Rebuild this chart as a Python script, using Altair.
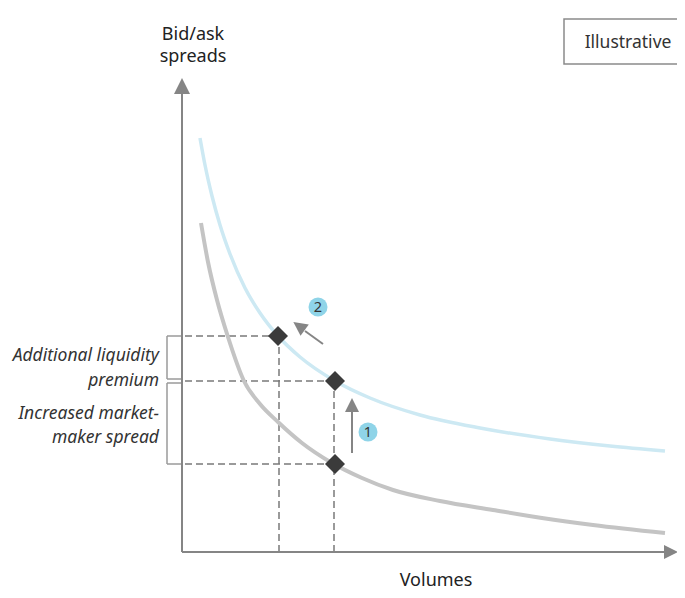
import altair as alt
import pandas as pd

# ---- data (illustrative units: volume along x, spread along y) ----
gray_vol = [19, 26, 35, 46, 62, 78, 96, 120, 150, 180, 211, 258, 311, 360, 411, 483]
gray_spread = [329, 290, 252, 215, 171, 148, 130, 109, 89, 74, 62, 51, 42, 34, 27, 19]

blue_vol = [18, 23, 30, 38, 48, 63, 78, 96, 118, 153, 188, 238, 298, 368, 428, 483]
blue_spread = [414, 387, 356, 327, 298, 264, 239, 216, 195, 171, 154, 137, 124, 113, 106, 101]

pt_vol = [96, 153, 153]
pt_spread = [216, 171, 88]

# dashed guides: horizontal (from axis to point) and vertical (from axis to point)
h_guide_y = [216, 171, 88]
h_guide_x_end = [96, 153, 153]
v_guide_x = [97, 152]
v_guide_y_end = [216, 171]

# brackets on the spread axis
bracket_top = [216, 169]
bracket_bottom = [173, 88]

label_lines = ["Additional liquidity", "premium", "Increased market-", "maker spread"]
label_y = [191, 166, 133, 109]

XMIN, XMAX = -174, 495
YMIN, YMAX = -38, 544

xs = alt.Scale(domain=[XMIN, XMAX], nice=False, zero=False)
ys = alt.Scale(domain=[YMIN, YMAX], nice=False, zero=False)

def X(f="x"):
    return alt.X(f"{f}:Q", scale=xs, axis=None)

def Y(f="y"):
    return alt.Y(f"{f}:Q", scale=ys, axis=None)

AX = "#858585"
FONT = "Noto Sans"

gray_df = pd.DataFrame({"x": gray_vol, "y": gray_spread})
blue_df = pd.DataFrame({"x": blue_vol, "y": blue_spread})
pts_df = pd.DataFrame({"x": pt_vol, "y": pt_spread})

gray_line = alt.Chart(gray_df).mark_line(color="#c4c4c4", strokeWidth=4, interpolate="monotone").encode(
    x=X(), y=Y(), order="x:Q")
blue_line = alt.Chart(blue_df).mark_line(color="#cde9f3", strokeWidth=3.5, interpolate="monotone").encode(
    x=X(), y=Y(), order="x:Q")

hg = pd.DataFrame({"x": [3] * 3, "x2": h_guide_x_end, "y": h_guide_y})
vg = pd.DataFrame({"x": v_guide_x, "y": [0, 0], "y2": v_guide_y_end})
h_dash = alt.Chart(hg).mark_rule(color="#7a7a7a", strokeWidth=1.5, strokeDash=[7, 4]).encode(
    x=X(), x2="x2:Q", y=Y())
v_dash = alt.Chart(vg).mark_rule(color="#7a7a7a", strokeWidth=1.5, strokeDash=[7, 4]).encode(
    x=X(), y=Y(), y2="y2:Q")

# axes
axes_df = pd.DataFrame({"x": [0, 0], "x2": [0, 484], "y": [0, 0], "y2": [460, 0]})
axes = alt.Chart(axes_df).mark_rule(color=AX, strokeWidth=2).encode(
    x=X(), x2="x2:Q", y=Y(), y2="y2:Q")
yhead = alt.Chart(pd.DataFrame({"x": [0], "y": [466]})).mark_point(
    shape="M0,-1L1,1L-1,1Z", filled=True, color=AX, opacity=1, size=256).encode(x=X(), y=Y())
xhead = alt.Chart(pd.DataFrame({"x": [489], "y": [0]})).mark_point(
    shape="M1,0L-1,-1L-1,1Z", filled=True, color=AX, opacity=1, size=196).encode(x=X(), y=Y())

# brackets
br_v = pd.DataFrame({"x": [-15, -15], "y": bracket_top, "y2": bracket_bottom})
br_h = pd.DataFrame({"x": [-15] * 4, "x2": [-1] * 4,
                     "y": [bracket_top[0], bracket_bottom[0], bracket_top[1], bracket_bottom[1]]})
brackets_v = alt.Chart(br_v).mark_rule(color="#9a9a9a", strokeWidth=1.5).encode(x=X(), y=Y(), y2="y2:Q")
brackets_h = alt.Chart(br_h).mark_rule(color="#9a9a9a", strokeWidth=1.5).encode(x=X(), x2="x2:Q", y=Y())

# arrows
arr_lines = pd.DataFrame({"x": [170, 141], "x2": [170, 123], "y": [99, 208], "y2": [141, 221]})
arrows = alt.Chart(arr_lines).mark_rule(color=AX, strokeWidth=2).encode(
    x=X(), x2="x2:Q", y=Y(), y2="y2:Q")
heads_df = pd.DataFrame({"x": [170, 117], "y": [147, 226], "a": [0, 306]})
heads = alt.Chart(heads_df).mark_point(
    shape="M0,-1L1,1L-1,1Z", filled=True, color=AX, opacity=1, size=196).encode(
    x=X(), y=Y(), angle=alt.Angle("a:Q", scale=None))

# diamonds
diamonds = alt.Chart(pts_df).mark_point(shape="diamond", filled=True, color="#3b3b3b",
                                        opacity=1, size=400).encode(x=X(), y=Y())

# numbered circles
num_df = pd.DataFrame({"x": [186, 136], "y": [120, 245], "t": ["1", "2"]})
circles = alt.Chart(num_df).mark_point(shape="circle", filled=True, color="#8fd4e8",
                                       opacity=1, size=361).encode(x=X(), y=Y())
nums = alt.Chart(num_df).mark_text(font=FONT, fontSize=14.5, color="#333333", baseline="middle",
                                   dy=0.5).encode(x=X(), y=Y(), text="t:N")

# labels on the left
lab_df = pd.DataFrame({"x": [-23] * 4, "y": label_y, "t": label_lines})
labels = alt.Chart(lab_df).mark_text(font=FONT, fontSize=17.5, fontStyle="italic", color="#333333",
                                     align="right", baseline="alphabetic").encode(x=X(), y=Y(), text="t:N")

# axis titles
yt_df = pd.DataFrame({"x": [11, 11], "y": [512, 490], "t": ["Bid/ask", "spreads"]})
ytitle = alt.Chart(yt_df).mark_text(font=FONT, fontSize=18, color="#222222", align="center",
                                    baseline="alphabetic").encode(x=X(), y=Y(), text="t:N")
xt_df = pd.DataFrame({"x": [254], "y": [-34], "t": ["Volumes"]})
xtitle = alt.Chart(xt_df).mark_text(font=FONT, fontSize=18, color="#222222", align="center",
                                    baseline="alphabetic").encode(x=X(), y=Y(), text="t:N")

# Illustrative box
box_df = pd.DataFrame({"x": [382], "x2": [530], "y": [533], "y2": [488]})
box = alt.Chart(box_df).mark_rect(fill="white", stroke="#8a8a8a", strokeWidth=1.5, clip=True).encode(
    x=X(), x2="x2:Q", y=Y(), y2="y2:Q")
bt_df = pd.DataFrame({"x": [446], "y": [509], "t": ["Illustrative"]})
boxtext = alt.Chart(bt_df).mark_text(font=FONT, fontSize=17.5, color="#333333", align="center",
                                     baseline="middle").encode(x=X(), y=Y(), text="t:N")

chart = alt.layer(
    h_dash, v_dash, brackets_v, brackets_h, gray_line, blue_line, axes, yhead, xhead,
    arrows, heads, diamonds, circles, nums, labels, ytitle, xtitle, box, boxtext
).properties(
    width=XMAX - XMIN, height=YMAX - YMIN,
    autosize=alt.AutoSizeParams(type="none"), padding=0
).configure_view(stroke=None)

chart.save("out.html", embed_options={"renderer": "svg", "actions": False})
